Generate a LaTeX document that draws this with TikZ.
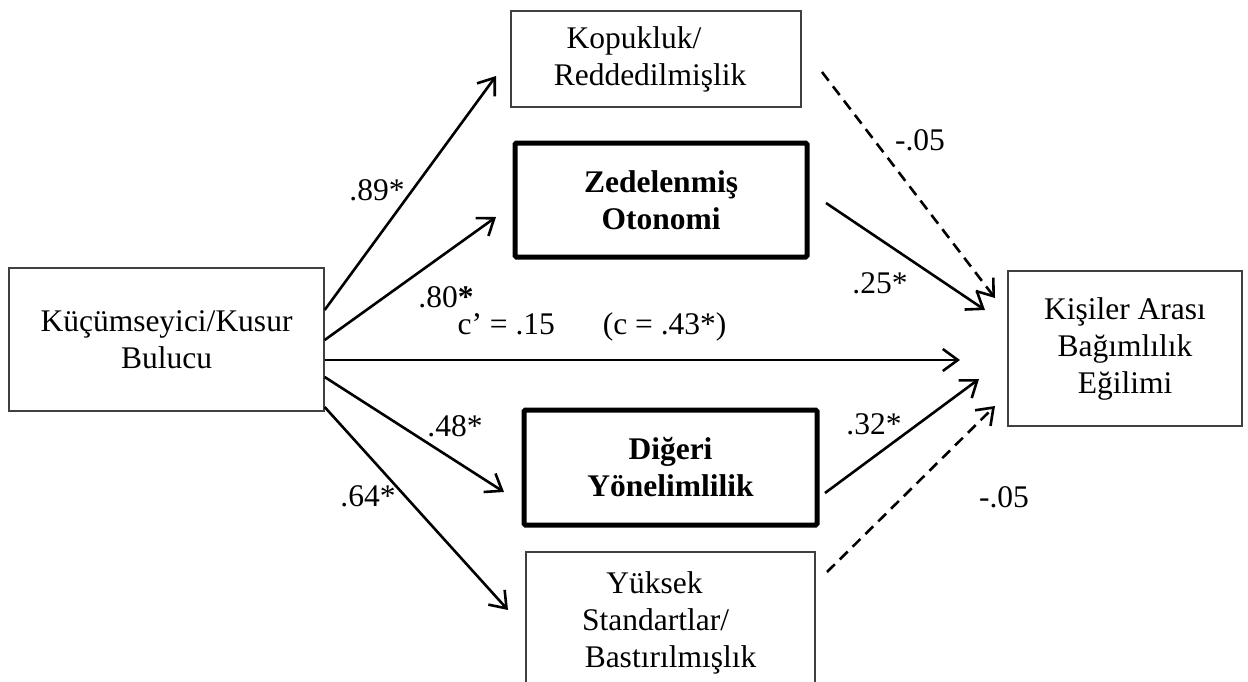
\documentclass[tikz,border=0pt]{standalone}
\usepackage{fontspec}
\setmainfont{Liberation Serif}
\usetikzlibrary{arrows.meta}
\begin{document}
\begin{tikzpicture}[x=1pt,y=-1pt,
  box/.style={draw=black!75, line width=1.3pt, rectangle, inner sep=0pt, align=center,
    font=\fontsize{31.5}{37}\selectfont},
  thickbox/.style={box, draw=black, line width=5pt, rounded corners=1.5pt, font=\fontsize{31.5}{37}\selectfont\bfseries},
  conn/.style={line width=2.6pt, -{Straight Barb[length=15pt,width=22pt,line width=2.6pt]}},
  dconn/.style={conn, dash pattern=on 11pt off 7pt},
  lab/.style={font=\fontsize{31.5}{37}\selectfont, inner sep=0pt}]
\useasboundingbox (0,0) rectangle (1248,681);
\clip (0,0) rectangle (1248,681);
\fill[white] (0,0) rectangle (1248,681);
% boxes
\node[box, minimum width=315pt, minimum height=143pt] (L) at (166.5,339.5) {Küçümseyici/Kusur\\Bulucu};
\node[box, minimum width=290pt, minimum height=96pt] (K) at (656,59) {\kern-44pt Kopukluk/\\\kern-12pt Reddedilmişlik};
\node[thickbox, minimum width=292pt, minimum height=114pt] (Z) at (661,200) {Zedelenmiş\\Otonomi};
\node[thickbox, minimum width=293pt, minimum height=115pt] (D) at (670.5,467.5) {Diğeri\\Yönelimlilik};
\node[box, minimum width=289pt, minimum height=141pt] (Y) at (670.5,622.5) {\kern-32pt Yüksek\\\kern-30pt Standartlar/\\Bastırılmışlık};
\node[box, minimum width=234pt, minimum height=155pt] (R) at (1125,348.5) {Kişiler Arası\\Bağımlılık\\Eğilimi};
% coordinates for connector ends
\coordinate (l1) at (L.east |- 0,310);
\coordinate (l2) at (L.east |- 0,340);
\coordinate (l3) at (L.east |- 0,360);
\coordinate (l4) at (L.east |- 0,377);
\coordinate (l5) at (L.east |- 0,407);
\coordinate (tK) at (496,76);
\coordinate (tZ) at (496,217);
\coordinate (tR3) at (960,360);
\coordinate (tD) at (504,492);
\coordinate (tY) at (508,610);
\coordinate (sK) at (822,72);
\coordinate (sZ) at (826,203);
\coordinate (sD) at (825,493);
\coordinate (sY) at (827,572);
\coordinate (rK) at (995,298);
\coordinate (rZ) at (985,310);
\coordinate (rD) at (979,379);
\coordinate (rY) at (995,406);
% connectors
\draw[conn] (l1) -- (tK);
\draw[conn] (l2) -- (tZ);
\draw[conn] (l3) -- (tR3);
\draw[conn] (l4) -- (tD);
\draw[conn] (l5) -- (tY);
\draw[dconn] (sK) -- (rK);
\draw[conn] (sZ) -- (rZ);
\draw[conn] (sD) -- (rD);
\draw[dconn] (sY) -- (rY);
% labels
\node[lab] (a1) at (377,190) {.89*};
\node[lab] (a2) at (446,297) {.80\textbf{*}};
\node[lab] (a3) at (592,327) {c’ = .15\hspace{48pt}(c = .43*)};
\node[lab] (a4) at (455,426) {.48*};
\node[lab] (a5) at (368,496) {.64*};
\node[lab] (b1) at (920,140) {-.05};
\node[lab] (b2) at (880,283) {.25*};
\node[lab] (b3) at (874,424) {.32*};
\node[lab] (b4) at (1004,497) {-.05};
\end{tikzpicture}
\end{document}
